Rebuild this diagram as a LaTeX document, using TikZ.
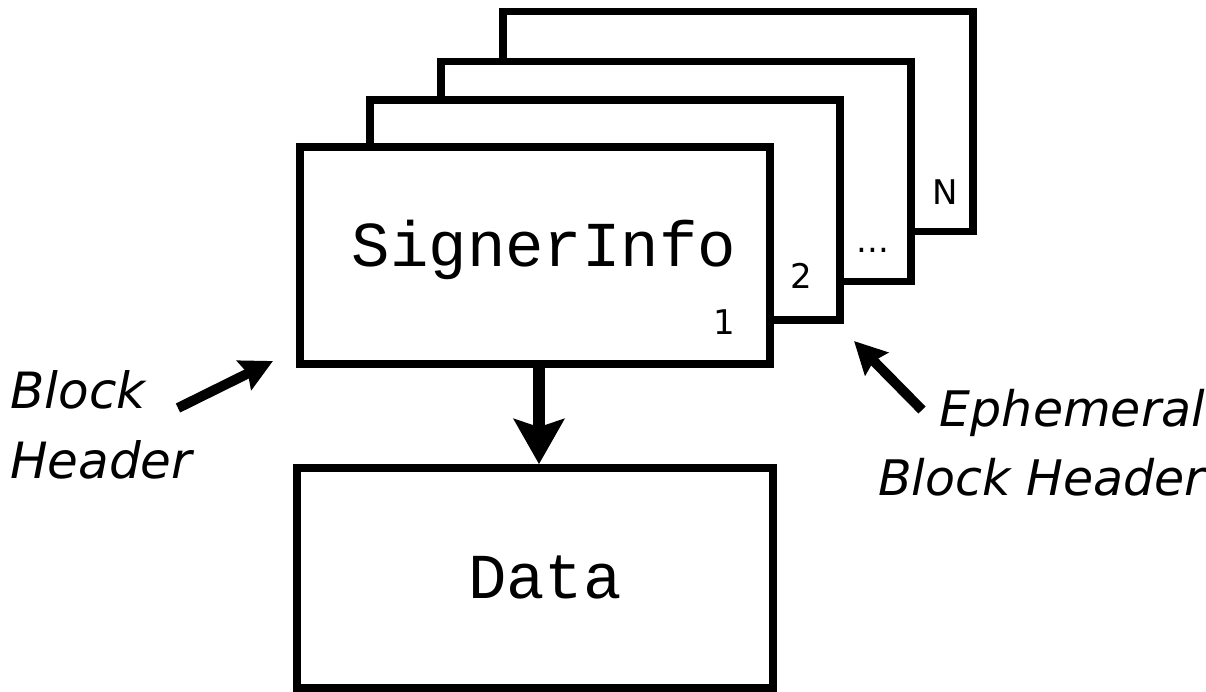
\documentclass[tikz,border=0pt]{standalone}
\usepackage{fontspec}
\setmainfont{DejaVu Sans}
\newfontfamily\monofont{Liberation Mono}
\usetikzlibrary{arrows.meta}

\begin{document}
\begin{tikzpicture}[x=1pt,y=-1pt,
  card/.style={draw,line width=7.7pt,fill=white,minimum width=470pt,minimum height=220pt,inner sep=0pt},
  tag/.style={inner sep=0pt,font=\fontsize{34}{34}\selectfont},
  mono/.style={inner sep=0pt,font=\monofont\fontsize{64}{64}\selectfont},
  side/.style={inner sep=0pt,font=\itshape\fontsize{50}{70}\selectfont},
  pointer/.style={line width=10pt,-{Stealth[length=32pt,width=32pt,inset=4pt]}}]
  \useasboundingbox (0,0) rectangle (1206,691);
  % stacked headers, back to front
  \node[card] (h4) at (738,121.5) {};
  \node[card] (h3) at (676,171.5) {};
  \node[card] (h2) at (605,210.25) {};
  \node[card,minimum height=217pt] (h1) at (535,255.5) {};
  \node[card,minimum width=476pt] (data) at (535,578) {};
  \node[tag] (n4) at (945,192) {N};
  \node[tag] (n3) at (873,250) {...};
  \node[tag] (n2) at (801.7,276.3) {2};
  \node[tag] (n1) at (724.5,322.3) {1};
  \node[mono,anchor=base] (sig) at (544,266.7) {SignerInfo};
  \node[mono,anchor=base] (dt) at (545,598.3) {Data};
  % side notes
  \node[side,anchor=north west,align=left] (bh) at (10,370) {Block\\Header};
  \node[side,anchor=north east,align=right,font=\itshape\fontsize{49}{69}\selectfont] (ebh) at (1205,389) {Ephemeral\\Block Header};
  \coordinate (bt) at (178,408);
  \coordinate (bp) at (273,361);
  \coordinate (et) at (922,410);
  \coordinate (ep) at (854,341);
  \draw[pointer] (bt) -- (bp);
  \draw[pointer] (et) -- (ep);
  \draw[line width=12pt,-{Stealth[length=45pt,width=50pt,inset=8pt]}] ([xshift=4pt]h1.south) -- ([xshift=4pt]data.north);
\end{tikzpicture}
\end{document}
